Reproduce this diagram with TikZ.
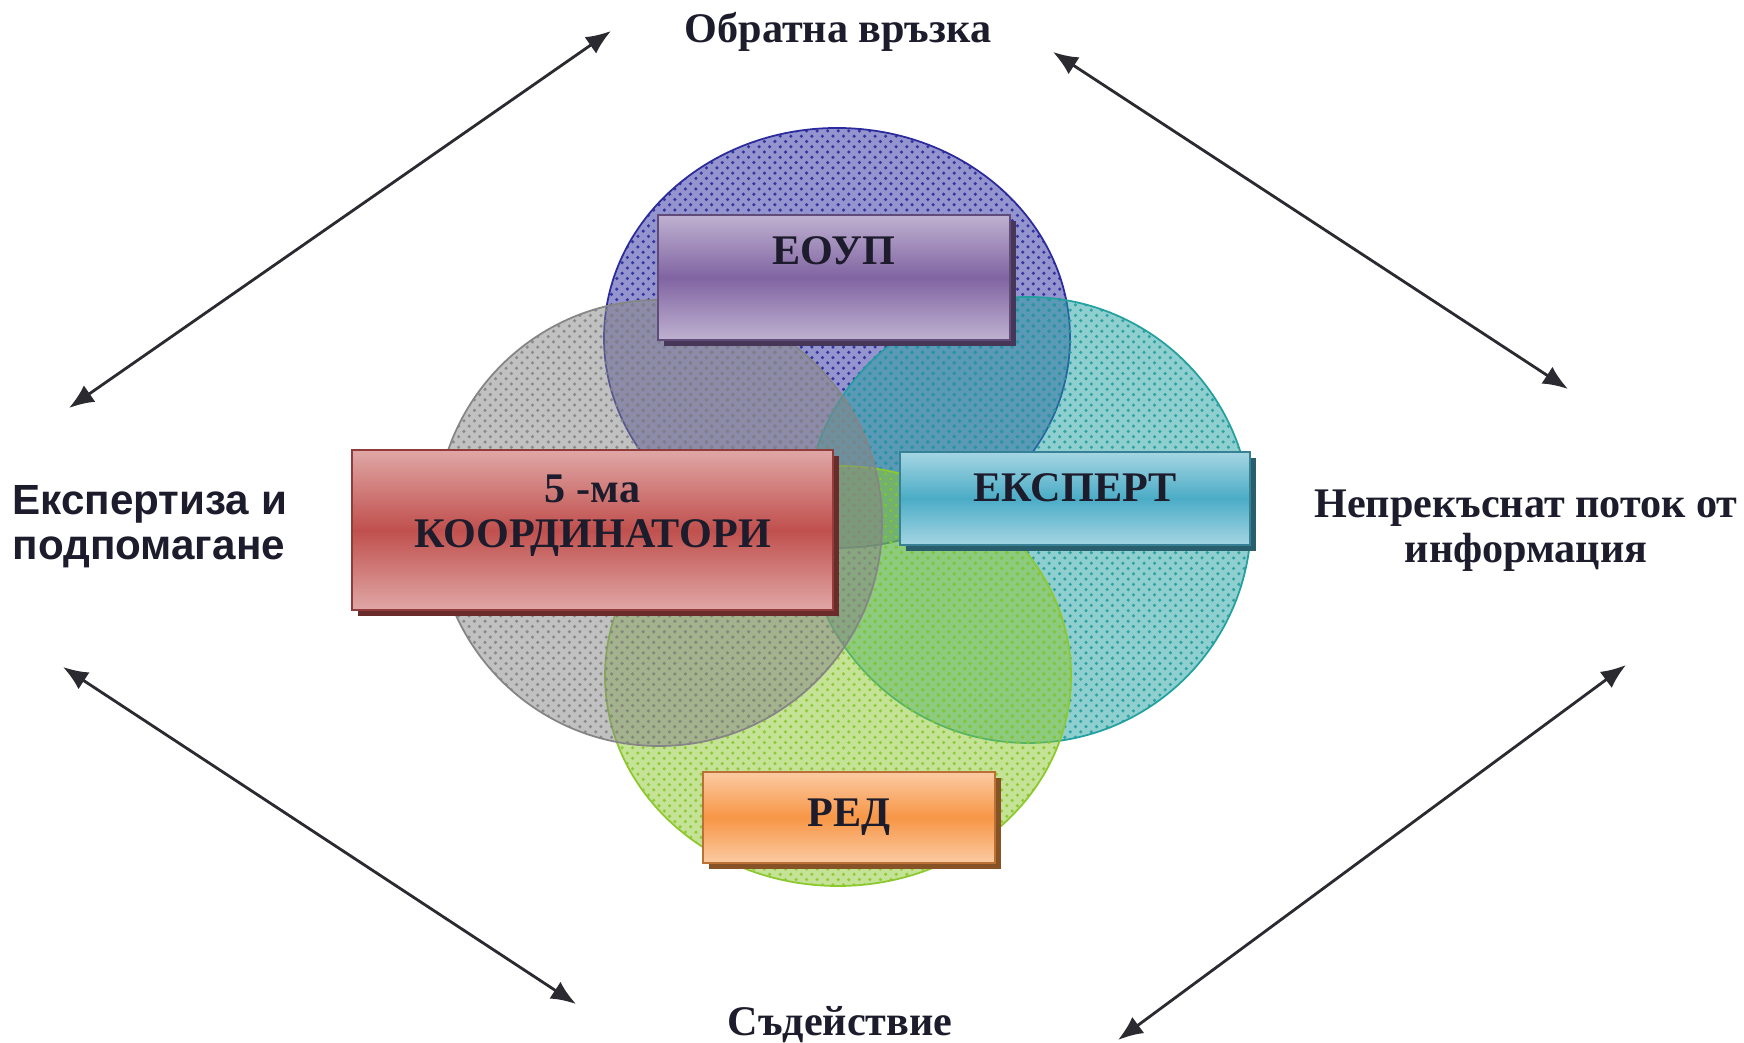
\documentclass[tikz,border=0pt]{standalone}
\usepackage{fontspec}
\setmainfont{Liberation Serif}
\newfontfamily\labsans{Liberation Sans}
\usetikzlibrary{arrows.meta,positioning,patterns,shadows}
\definecolor{txtC}{HTML}{1C1C2C}
\definecolor{lineC}{HTML}{2A2A30}
\definecolor{eoupC}{HTML}{8064A2}
\definecolor{coordC}{HTML}{C0504D}
\definecolor{expC}{HTML}{4BACC6}
\definecolor{redC}{HTML}{F79646}
\definecolor{ringB}{HTML}{2B2B9E}
\definecolor{ringG}{HTML}{858585}
\definecolor{ringT}{HTML}{23A0A0}
\definecolor{ringL}{HTML}{8CC82E}

\begin{document}
\begin{tikzpicture}[>={Latex[length=2.5mm,width=2mm]}]
	\tikzset{ring/.style={draw=#1, line width=.5pt, fill=#1, fill opacity=.5,
			postaction={pattern=crosshatch dots, pattern color=#1, fill opacity=.9}},
		rblock/.style={draw=#1!75!black, line width=.4pt, shape=rectangle,
			top color=#1!50!white, bottom color=#1!50!white, middle color=#1,
			text=txtC, font=\bfseries\fontsize{12}{13}\selectfont, align=center,
			inner sep=0pt, text height=.3cm,
			drop shadow={shadow xshift=.06cm, shadow yshift=-.06cm, opacity=1, fill=#1!55!black}},
		lbl/.style={text=txtC, font=\bfseries\fontsize{12}{13}\selectfont, inner sep=0pt},
		link/.style={<->, line width=.8pt, draw=lineC},
	}
	\useasboundingbox (0,0) rectangle (17.44,10.43);
	\fill[white] (0,0) rectangle (17.44,10.43);
	% four circles
	\path[ring=ringB] (8.37,7.05) ellipse (2.33 and 2.10);
	\path[ring=ringT] (10.28,5.23) circle (2.23);
	\path[ring=ringL] (8.38,3.67) ellipse (2.33 and 2.10);
	\path[ring=ringG] (6.59,5.20) circle (2.23);
	% blocks
	\node [rblock=eoupC, minimum width=3.52cm, minimum height=1.25cm, text depth=.56cm] (eoup) at (8.34,7.655) {ЕОУП};
	\node [rblock=coordC, minimum width=4.81cm, minimum height=1.60cm, text height=.8cm, text depth=.44cm] (coord) at (5.925,5.13) {5 -ма\\КООРДИНАТОРИ};
	\node [rblock=expC, minimum width=3.50cm, minimum height=.93cm, text depth=.24cm] (expert) at (10.75,5.445) {ЕКСПЕРТ};
	\node [rblock=redC, minimum width=2.92cm, minimum height=.91cm, text depth=.12cm] (red) at (8.49,2.255) {РЕД};
	% outer labels
	\node [lbl, anchor=base] (feedback) at (8.38,10.00) {Обратна връзка};
	\node [lbl, anchor=base] (support) at (8.40,0.07) {Съдействие};
	\node [lbl, anchor=base west, align=left, font=\labsans\bfseries\fontsize{12}{13}\selectfont] (expertise) at (0.12,4.83) {Експертиза и\\подпомагане};
	\node [lbl, anchor=base, align=center] (flow) at (15.26,4.80) {Непрекъснат поток от\\информация};
	% arrows
	\coordinate (tlA) at (0.69,6.35);
	\coordinate (tlB) at (6.11,10.12);
	\coordinate (trA) at (10.53,9.91);
	\coordinate (trB) at (15.68,6.54);
	\coordinate (blA) at (0.63,3.76);
	\coordinate (blB) at (5.76,0.39);
	\coordinate (brA) at (16.26,3.78);
	\coordinate (brB) at (11.18,0.03);
	\draw [link] (tlA) -- (tlB);
	\draw [link] (trA) -- (trB);
	\draw [link] (blA) -- (blB);
	\draw [link] (brA) -- (brB);
\end{tikzpicture}
\end{document}
